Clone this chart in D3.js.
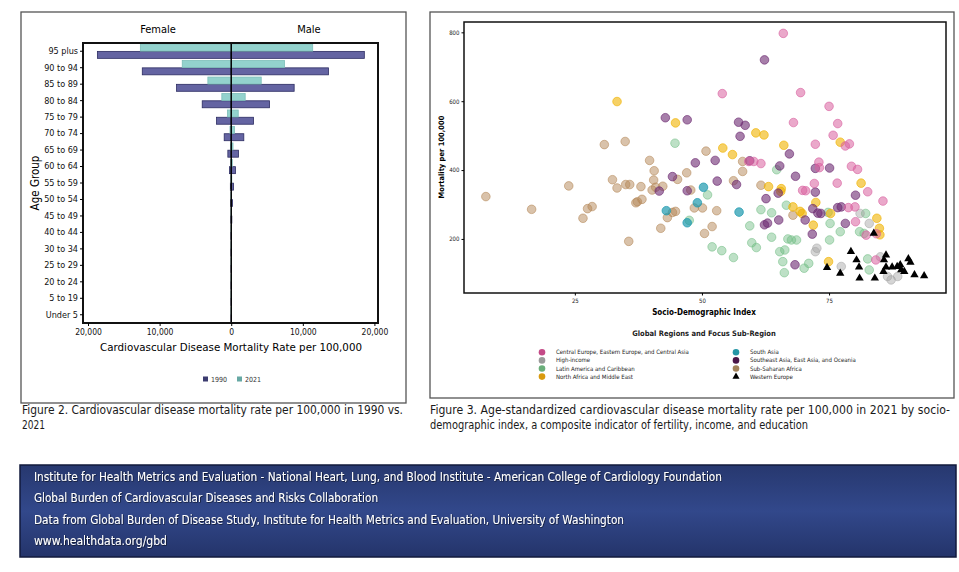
<!DOCTYPE html>
<html>
<head>
<meta charset="utf-8">
<script src="https://cdn.jsdelivr.net/npm/d3@7"></script>
<style>
body { margin: 0; background: #fff; }
text { font-family: "DejaVu Sans Condensed", "DejaVu Sans", sans-serif; }
</style>
</head>
<body>
<div id="chart"></div>
<script>
// ---- figure 2 data: mortality rate per 100,000 by age group (top to bottom)
var ageGroups = ["95 plus", "90 to 94", "85 to 89", "80 to 84", "75 to 79", "70 to 74", "65 to 69", "60 to 64",
  "55 to 59", "50 to 54", "45 to 49", "40 to 44", "30 to 34", "25 to 29", "20 to 24", "5 to 19", "Under 5"];
var female1990 = [18690, 12420, 7630, 4050, 2050, 980, 470, 240, 120, 60, 30, 15, 8, 5, 3, 2, 3];
var male1990 = [18590, 13580, 8790, 5350, 3110, 1760, 1020, 600, 330, 170, 90, 45, 20, 12, 8, 4, 3];
var female2021 = [12690, 6840, 3260, 1310, 520, 170, 100, 60, 30, 15, 8, 4, 2, 1, 1, 1, 1];
var male2021 = [11380, 7440, 4190, 1950, 980, 460, 250, 150, 80, 40, 20, 10, 5, 3, 2, 1, 1];
var years = ["2021", "1990"];
var rateTicks = [-20000, -10000, 0, 10000, 20000];

// ---- figure 3 data: [socio-demographic index, mortality per 100,000]
var centralEurope = [[66.0,797],[54.0,622],[69.4,625],[75.0,585],[68.0,538],[76.7,535],[75.8,501],[78.2,470],[79.0,476],
  [72.3,475],[61.6,419],[59.2,425],[60.2,425],[73.0,423],[73.1,407],[79.4,411],[80.6,402],[72.1,361],[76.6,362],
  [69.8,341],[70.4,340],[82.6,337],[85.6,310],[78.8,291],[80.1,293],[80.2,250],[84.3,215],[82.3,211],[84.2,139]];
var highIncome = [[72.3,163],[72.6,173],[77.4,120],[81.1,274],[82.9,245],[85.1,148],[87.2,81],[88.5,91],[86.5,91]];
var latinAmerica = [[44.7,478],[64.7,401],[51.1,328],[47.5,254],[59.4,238],[59.8,189],[60.7,175],[52.0,177],[53.9,166],
  [56.2,146],[61.6,285],[63.7,276],[66.6,298],[63.7,205],[65.3,163],[66.3,168],[65.9,134],[66.2,102],[66.9,200],
  [67.6,197],[68.6,197],[70.1,115],[71.0,129],[74.8,277],[75.1,197],[75.2,245],[77.2,221],[81.0,221],[82.2,274],
  [81.9,216],[82.6,142],[82.9,110]];
var northAfrica = [[33.3,599],[44.8,537],[60.6,508],[62.2,502],[77.2,481],[66.1,472],[54.1,464],[56.0,445],[81.3,362],
  [63.1,352],[65.6,346],[65.5,338],[72.4,306],[67.9,293],[69.3,280],[69.7,274],[75.3,274],[71.9,240],[84.9,231],
  [85.0,212],[74.9,134],[84.4,260]];
var southAsia = [[50.3,350],[49.1,305],[43.0,282],[57.3,278],[47.1,247]];
var southeastAsia = [[62.3,720],[42.8,552],[47.1,546],[57.2,539],[58.5,530],[57.5,498],[67.2,447],[48.7,421],[52.6,428],
  [59.4,427],[65.3,412],[72.3,405],[75.1,406],[68.4,382],[44.2,381],[53.0,368],[56.8,358],[41.6,339],[47.1,340],
  [65.0,333],[72.3,336],[80.2,327],[62.6,317],[71.8,288],[72.8,275],[76.7,291],[77.4,293],[62.3,241],[62.9,246],
  [65.1,255],[70.3,255],[71.7,214],[68.3,125],[78.2,245],[73.4,274]];
var subSaharan = [[7.5,323],[16.5,286],[23.8,354],[26.6,260],[27.5,288],[28.4,294],[30.8,474],[32.4,372],[33.3,348],
  [34.9,483],[35.0,358],[35.8,358],[35.6,193],[37.0,305],[38.2,315],[38.0,352],[39.7,428],[40.6,398],[40.5,371],
  [40.2,342],[40.9,350],[42.3,353],[41.9,231],[43.2,262],[44.2,277],[44.8,280],[45.2,373],[47.0,392],[47.8,342],
  [48.5,290],[50.1,290],[50.8,455],[52.0,236],[52.9,282],[50.5,216],[58.0,425],[58.0,396],[56.2,369],[61.6,356],
  [67.9,269],[37.3,308]];
var westernEurope = [[83.8,216],[74.6,117],[77.2,100],[79.3,163],[80.4,139],[80.9,118],[81.0,86],[84.0,86],[86.2,153],
  [85.8,139],[86.2,118],[85.7,105],[87.4,118],[88.4,120],[89.0,125],[90.6,142],[91.0,132],[89.8,105],[91.8,96],
  [93.7,93],[89.2,110]];
var regionNames = ["Central Europe, Eastern Europe, and Central Asia", "High-income", "Latin America and Caribbean",
  "North Africa and Middle East", "South Asia", "Southeast Asia, East Asia, and Oceania", "Sub-Saharan Africa", "Western Europe"];
var sdiTicks = [25, 50, 75];
var mortTicks = [200, 400, 600, 800];

var footerLines = ["Institute for Health Metrics and Evaluation - National Heart, Lung, and Blood Institute - American College of Cardiology Foundation",
  "Global Burden of Cardiovascular Diseases and Risks Collaboration",
  "Data from Global Burden of Disease Study, Institute for Health Metrics and Evaluation, University of Washington",
  "www.healthdata.org/gbd"];

var svg = d3.select("#chart").append("svg").attr("width", 959).attr("height", 572);
svg.append("rect").attr("width", 959).attr("height", 572).attr("fill", "#fff");

var panel = function(x, y, w, h) {
  return svg.append("rect").attr("x", x).attr("y", y).attr("width", w).attr("height", h)
    .attr("fill", "none").attr("stroke", "#555").attr("stroke-width", 1.3);
};
panel(21, 12, 385, 391);
panel(430, 12, 524, 386);

// ================= Figure 2: pyramid =================
var pyr = {left: 83, top: 43, right: 378, bottom: 323};
var xL = d3.scaleLinear().domain([-20700, 20500]).range([pyr.left, pyr.right]);
var yAge = d3.scaleBand().domain(ageGroups).range([pyr.top, pyr.bottom]).paddingInner(0.1).paddingOuter(0.05);
var yYear = d3.scaleBand().domain(years).range([0, yAge.bandwidth()]).padding(0.04);
var yearFill = {"1990": "#6464a2", "2021": "#93d2cd"};
var yearStroke = {"1990": "#2c2c62", "2021": "#7cbdb8"};

var bars = [];
ageGroups.forEach(function(a, i) {
  bars.push({age: a, year: "1990", value: -female1990[i]});
  bars.push({age: a, year: "1990", value: male1990[i]});
  bars.push({age: a, year: "2021", value: -female2021[i]});
  bars.push({age: a, year: "2021", value: male2021[i]});
});

svg.append("g").selectAll("rect").data(bars).join("rect")
  .attr("x", function(d) { return Math.min(xL(0), xL(d.value)); })
  .attr("y", function(d) { return yAge(d.age) + yYear(d.year); })
  .attr("width", function(d) { return Math.abs(xL(d.value) - xL(0)); })
  .attr("height", yYear.bandwidth())
  .attr("fill", function(d) { return yearFill[d.year]; })
  .attr("stroke", function(d) { return yearStroke[d.year]; })
  .attr("stroke-width", 0.8);

svg.append("line").attr("x1", xL(0)).attr("x2", xL(0)).attr("y1", pyr.top).attr("y2", pyr.bottom)
  .attr("stroke", "#000").attr("stroke-width", 1.5);
svg.append("rect").attr("x", pyr.left).attr("y", pyr.top).attr("width", pyr.right - pyr.left).attr("height", pyr.bottom - pyr.top)
  .attr("fill", "none").attr("stroke", "#111").attr("stroke-width", 2);

var xAxisL = svg.append("g").attr("transform", "translate(0," + pyr.bottom + ")")
  .call(d3.axisBottom(xL).tickValues(rateTicks).tickSize(3).tickSizeOuter(0)
    .tickFormat(function(d) { return d3.format(",")(Math.abs(d)); }));
xAxisL.select(".domain").remove();
xAxisL.selectAll("text").attr("font-size", 8.5).attr("fill", "#111").attr("font-family", "DejaVu Sans");

var yAxisL = svg.append("g").attr("transform", "translate(" + pyr.left + ",0)")
  .call(d3.axisLeft(yAge).tickSize(3).tickPadding(2).tickSizeOuter(0));
yAxisL.select(".domain").remove();
yAxisL.selectAll("text").attr("font-size", 9).attr("fill", "#111");

svg.append("text").attr("x", 158).attr("y", 33).attr("text-anchor", "middle").attr("font-size", 11).text("Female");
svg.append("text").attr("x", 309).attr("y", 33).attr("text-anchor", "middle").attr("font-size", 11).text("Male");
svg.append("text").attr("x", 231).attr("y", 351).attr("text-anchor", "middle").attr("font-size", 11)
  .attr("textLength", 262).attr("lengthAdjust", "spacingAndGlyphs").text("Cardiovascular Disease Mortality Rate per 100,000");
svg.append("text").attr("transform", "translate(39,183) rotate(-90)").attr("text-anchor", "middle")
  .attr("font-size", 11.5).attr("font-family", "DejaVu Sans").text("Age Group");

var legL = svg.append("g").attr("transform", "translate(203,379)");
["1990", "2021"].forEach(function(y, i) {
  var g = legL.append("g").attr("transform", "translate(" + (i * 34) + ",0)");
  g.append("rect").attr("x", 0).attr("y", -2.5).attr("width", 5).attr("height", 5)
    .attr("fill", y === "1990" ? "#3c3c70" : "#66a8a4");
  g.append("text").attr("x", 8).attr("y", 2.5).attr("font-size", 7).attr("fill", "#333").text(y);
});

// ================= Figure 3: scatter =================
var sc = {left: 464, top: 22, right: 946, bottom: 293};
var xS = d3.scaleLinear().domain([3.2, 98]).range([sc.left, sc.right]);
var yS = d3.scaleLinear().domain([43, 830]).range([sc.bottom, sc.top]);

var regions = [
  {name: regionNames[6], pts: subSaharan, base: "#b38656", key: "#a2825a", op: 0.5},
  {name: regionNames[2], pts: latinAmerica, base: "#6cbb80", key: "#6aae7a", op: 0.45},
  {name: regionNames[1], pts: highIncome, base: "#a2a2a2", key: "#9a9a9a", op: 0.45},
  {name: regionNames[4], pts: southAsia, base: "#1c98ae", key: "#2596a6", op: 0.7},
  {name: regionNames[3], pts: northAfrica, base: "#f0b200", key: "#d99a0f", op: 0.6},
  {name: regionNames[5], pts: southeastAsia, base: "#6d2a72", key: "#4a1648", op: 0.6},
  {name: regionNames[0], pts: centralEurope, base: "#d8609f", key: "#c44a87", op: 0.55}
];

regions.forEach(function(r) {
  svg.append("g").selectAll("circle").data(r.pts).join("circle")
    .attr("cx", function(d) { return xS(d[0]); })
    .attr("cy", function(d) { return yS(d[1]); })
    .attr("r", 4.3)
    .attr("fill", r.base).attr("fill-opacity", r.op)
    .attr("stroke", r.base).attr("stroke-opacity", Math.min(1, r.op + 0.2)).attr("stroke-width", 0.8);
});

var tri = d3.symbol().type(d3.symbolTriangle).size(30);
svg.append("g").selectAll("path").data(westernEurope).join("path")
  .attr("transform", function(d) { return "translate(" + xS(d[0]) + "," + yS(d[1]) + ")"; })
  .attr("d", tri).attr("fill", "#000");

svg.append("rect").attr("x", sc.left).attr("y", sc.top).attr("width", sc.right - sc.left).attr("height", sc.bottom - sc.top)
  .attr("fill", "none").attr("stroke", "#111").attr("stroke-width", 1.5);

var xAxisS = svg.append("g").attr("transform", "translate(0," + sc.bottom + ")")
  .call(d3.axisBottom(xS).tickValues(sdiTicks).tickSize(2.5).tickSizeOuter(0));
xAxisS.select(".domain").remove();
xAxisS.selectAll("text").attr("font-size", 6).attr("fill", "#222");

var yAxisS = svg.append("g").attr("transform", "translate(" + sc.left + ",0)")
  .call(d3.axisLeft(yS).tickValues(mortTicks).tickSize(2.5).tickPadding(2).tickSizeOuter(0));
yAxisS.select(".domain").remove();
yAxisS.selectAll("text").attr("font-size", 6).attr("fill", "#222");

svg.append("text").attr("x", 704).attr("y", 314.5).attr("text-anchor", "middle").attr("font-size", 8)
  .attr("font-weight", "bold").text("Socio-Demographic Index");
svg.append("text").attr("transform", "translate(444,157) rotate(-90)").attr("text-anchor", "middle")
  .attr("font-size", 7.5).attr("font-weight", "bold").text("Mortality per 100,000");

// legend
svg.append("text").attr("x", 704).attr("y", 336).attr("text-anchor", "middle").attr("font-size", 7.5)
  .attr("font-weight", "bold").attr("fill", "#222").text("Global Regions and Focus Sub-Region");
var keyColor = {};
regions.forEach(function(r) { keyColor[r.name] = r.key; });
var legS = svg.append("g").selectAll("g").data(regionNames).join("g")
  .attr("transform", function(d, i) {
    return "translate(" + (i < 4 ? 542 : 736) + "," + (352.3 + (i % 4) * 8.1) + ")";
  });
legS.each(function(d) {
  var g = d3.select(this);
  if (d === "Western Europe") {
    g.append("path").attr("d", d3.symbol().type(d3.symbolTriangle).size(22)).attr("fill", "#000");
  } else {
    g.append("circle").attr("r", 3.3).attr("fill", keyColor[d]);
  }
  g.append("text").attr("x", 14).attr("y", 2).attr("font-size", 6).attr("fill", "#222").text(d);
});

// ================= captions =================
var cap = function(x, y, w, s) {
  var t = svg.append("text").attr("x", x).attr("y", y).attr("font-size", 12).attr("fill", "#1a1a1a")
    .attr("font-family", "'Liberation Sans Narrow', 'DejaVu Sans Condensed', sans-serif").text(s);
  if (w) t.attr("textLength", w).attr("lengthAdjust", "spacingAndGlyphs");
};
cap(22, 414, 381, "Figure 2. Cardiovascular disease mortality rate per 100,000 in 1990 vs.");
cap(22, 429, 23, "2021");
cap(430, 414, 520, "Figure 3. Age-standardized cardiovascular disease mortality rate per 100,000 in 2021 by socio-");
cap(430, 429, 378, "demographic index, a composite indicator of fertility, income, and education");

// ================= footer =================
var defs = svg.append("defs");
var grad = defs.append("linearGradient").attr("id", "foot").attr("x1", 0).attr("y1", 0).attr("x2", 0).attr("y2", 1);
grad.append("stop").attr("offset", "0%").attr("stop-color", "#27386f");
grad.append("stop").attr("offset", "50%").attr("stop-color", "#32488b");
grad.append("stop").attr("offset", "100%").attr("stop-color", "#24346a");
defs.append("filter").attr("id", "shadow").append("feDropShadow")
  .attr("dx", 0.6).attr("dy", 0.6).attr("stdDeviation", 0.4).attr("flood-color", "#000").attr("flood-opacity", 0.8);

svg.append("rect").attr("x", 20).attr("y", 465).attr("width", 936).attr("height", 92)
  .attr("fill", "url(#foot)").attr("stroke", "#121a3c").attr("stroke-width", 1.5);
var footWidths = [688, 344, 590, 133];
svg.append("g").selectAll("text").data(footerLines).join("text")
  .attr("x", 34).attr("y", function(d, i) { return 481 + i * 21.3; })
  .attr("font-size", 12.5).attr("fill", "#fff").attr("filter", "url(#shadow)")
  .attr("font-family", "'Liberation Sans Narrow', 'DejaVu Sans Condensed', sans-serif")
  .attr("textLength", function(d, i) { return footWidths[i]; }).attr("lengthAdjust", "spacingAndGlyphs")
  .text(function(d) { return d; });
</script>
</body>
</html>
